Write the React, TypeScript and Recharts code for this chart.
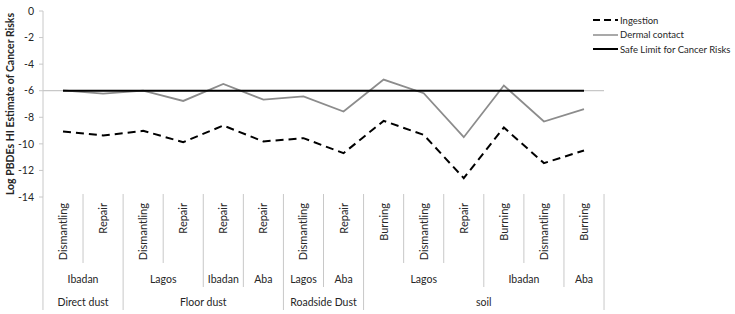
import React from "react";
import {
  LineChart,
  Line,
  XAxis,
  YAxis,
  ReferenceLine,
} from "recharts";

// sub-categories along the x axis (level 1)
const activities = [
  "Dismantling", "Repair",
  "Dismantling", "Repair", "Repair", "Repair",
  "Dismantling", "Repair",
  "Burning", "Dismantling", "Repair", "Burning", "Dismantling", "Burning",
];

// level 2: city groups (name, number of categories)
const cities = [
  { name: "Ibadan", span: 2 },
  { name: "Lagos", span: 2 },
  { name: "Ibadan", span: 1 },
  { name: "Aba", span: 1 },
  { name: "Lagos", span: 1 },
  { name: "Aba", span: 1 },
  { name: "Lagos", span: 3 },
  { name: "Ibadan", span: 2 },
  { name: "Aba", span: 1 },
];

// level 3: sample media
const media = [
  { name: "Direct dust", span: 2 },
  { name: "Floor dust", span: 4 },
  { name: "Roadside Dust", span: 2 },
  { name: "soil", span: 6 },
];

const ingestion = [-9.07, -9.37, -9.02, -9.87, -8.62, -9.82, -9.57, -10.7, -8.27, -9.32, -12.58, -8.77, -11.45, -10.5];
const dermal = [-5.97, -6.22, -6.0, -6.77, -5.49, -6.67, -6.42, -7.57, -5.16, -6.19, -9.5, -5.61, -8.32, -7.39];
const safeLimit = [-6, -6, -6, -6, -6, -6, -6, -6, -6, -6, -6, -6, -6, -6];

const yTicks = [0, -2, -4, -6, -8, -10, -12, -14];

const FONT = "Lato, 'Open Sans', sans-serif";
const TEXT = "#262626";
const GRID = "#c8c8c8";

const W = 735;
const H = 314;
const MARGIN = { top: 11, right: 131, bottom: 0, left: 0 };
const Y_W = 43;
const X_H = 117;
const PAD = 20;
const PLOT_W = W - MARGIN.left - MARGIN.right - Y_W;
const STEP = (PLOT_W - 2 * PAD) / (activities.length - 1);
const HALF = STEP / 2;

const data = activities.map((a, i) => ({
  key: String(i),
  activity: a,
  ingestion: ingestion[i],
  dermal: dermal[i],
  safe: safeLimit[i],
}));

// index -> group info helpers
function groupStarts(groups: { name: string; span: number }[]) {
  const starts: Record<number, { name: string; span: number }> = {};
  const ends = new Set<number>();
  let idx = 0;
  groups.forEach((g) => {
    starts[idx] = g;
    idx += g.span;
    ends.add(idx - 1);
  });
  return { starts, ends };
}

const cityInfo = groupStarts(cities);
const mediaInfo = groupStarts(media);

function CategoryTick(props: any) {
  const { x, y, payload } = props;
  const i = props.index ?? payload.index ?? Number(payload.value);
  const right = x + HALF;
  const sepLen = mediaInfo.ends.has(i) ? 113 : cityInfo.ends.has(i) ? 90 : 66;
  const city = cityInfo.starts[i];
  const med = mediaInfo.starts[i];
  return (
    <g>
      {i === 0 && (
        <line x1={x - HALF} y1={y} x2={x - HALF} y2={y + 113} stroke={GRID} />
      )}
      <line x1={right} y1={y - 3} x2={right} y2={y + sepLen} stroke={GRID} />
      <text
        x={x + 4}
        y={y + 6}
        transform={`rotate(-90 ${x + 4} ${y + 6})`}
        textAnchor="end"
        fontSize={11}
        fontFamily={FONT}
        fill={TEXT}
      >
        {activities[i]}
      </text>
      {city && (
        <text
          x={x + ((city.span - 1) * STEP) / 2}
          y={y + 86}
          textAnchor="middle"
          fontSize={10.5}
          fontFamily={FONT}
          fill={TEXT}
        >
          {city.name}
        </text>
      )}
      {med && (
        <text
          x={x + ((med.span - 1) * STEP) / 2}
          y={y + 109}
          textAnchor="middle"
          fontSize={10.5}
          fontFamily={FONT}
          fill={TEXT}
        >
          {med.name}
        </text>
      )}
    </g>
  );
}

const legendItems = [
  { label: "Ingestion", stroke: "#000", width: 2, dash: "7 4" },
  { label: "Dermal contact", stroke: "#8c8c8c", width: 1.5, dash: undefined },
  { label: "Safe Limit for Cancer Risks", stroke: "#000", width: 2, dash: undefined },
];

function LegendBox() {
  return (
    <div
      style={{
        position: "absolute",
        left: 593,
        top: 13,
        fontFamily: FONT,
        fontSize: 9.5,
        color: TEXT,
        whiteSpace: "nowrap",
      }}
    >
      {legendItems.map((it) => (
        <div key={it.label} style={{ display: "flex", alignItems: "center", height: 14.5 }}>
          <svg width={26} height={6} style={{ marginRight: 1 }}>
            <line x1={0} y1={3} x2={25} y2={3} stroke={it.stroke} strokeWidth={it.width} strokeDasharray={it.dash} />
          </svg>
          <span>{it.label}</span>
        </div>
      ))}
    </div>
  );
}

export default function App() {
  return (
    <div style={{ position: "absolute", left: 0, top: 0, width: W, height: H, background: "#fff" }}>
      <LineChart width={W} height={H} data={data} margin={MARGIN}>
        <XAxis
          dataKey="key"
          scale="point"
          padding={{ left: PAD, right: PAD }}
          height={X_H}
          axisLine={false}
          tickLine={false}
          tickSize={0}
          tickMargin={0}
          interval={0}
          tick={<CategoryTick />}
        />
        <YAxis
          width={Y_W}
          domain={[-14, 0]}
          ticks={yTicks}
          interval={0}
          tick={{ fill: TEXT, fontSize: 10.5, fontFamily: FONT }}
          axisLine={{ stroke: GRID }}
          tickLine={{ stroke: GRID }}
          tickSize={4}
          tickMargin={5}
          label={{
            value: "Log PBDEs HI Estimate of Cancer Risks",
            angle: -90,
            position: "insideLeft",
            offset: 10,
            style: { fill: TEXT, fontSize: 10.5, fontWeight: 700, fontFamily: FONT, textAnchor: "middle" },
          }}
        />
        <ReferenceLine y={-6} stroke={GRID} strokeWidth={1.2} />
        <Line
          dataKey="dermal"
          stroke="#8c8c8c"
          strokeWidth={1.8}
          dot={false}
          isAnimationActive={false}
        />
        <Line
          dataKey="safe"
          stroke="#000"
          strokeWidth={2}
          dot={false}
          isAnimationActive={false}
        />
        <Line
          dataKey="ingestion"
          stroke="#000"
          strokeWidth={2}
          strokeDasharray="8 5"
          dot={false}
          isAnimationActive={false}
        />
      </LineChart>
      <LegendBox />
    </div>
  );
}
